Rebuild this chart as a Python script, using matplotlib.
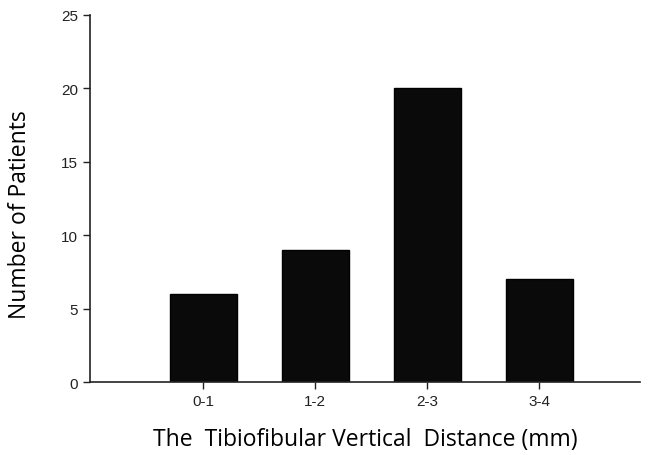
import matplotlib
matplotlib.use("Agg")
import matplotlib.pyplot as plt
import numpy as np

# data
categories = ['0-1', '1-2', '2-3', '3-4']
patients = [6, 9, 20, 7]

fig = plt.figure(figsize=(6.48, 4.56), dpi=100)
ax = fig.add_axes([0.139, 0.160, 0.849, 0.805])

x = np.arange(len(categories))
ax.bar(x, patients, width=0.6, color='#0a0a0a', edgecolor='black', linewidth=1)

ax.set_xlim(-1.01, 3.9)
ax.set_ylim(0, 25)
ax.set_yticks([0, 5, 10, 15, 20, 25])
ax.set_xticks(x)
ax.set_xticklabels(categories)

for s in ['top', 'right']:
    ax.spines[s].set_visible(False)
for s in ['left', 'bottom']:
    ax.spines[s].set_linewidth(1.2)
    ax.spines[s].set_color('#222222')

ax.tick_params(direction='out', length=5, width=1, labelsize=11, colors='#222222')
for lab in ax.get_xticklabels() + ax.get_yticklabels():
    lab.set_family('Liberation Sans')

ax.set_xlabel('The  Tibiofibular Vertical  Distance (mm)', fontsize=16.5, family='Open Sans', labelpad=14)
ax.set_ylabel('Number of Patients', fontsize=16.5, family='Open Sans')
ax.yaxis.set_label_coords(-0.105, 0.46)

fig.savefig('out.png', dpi=100)
